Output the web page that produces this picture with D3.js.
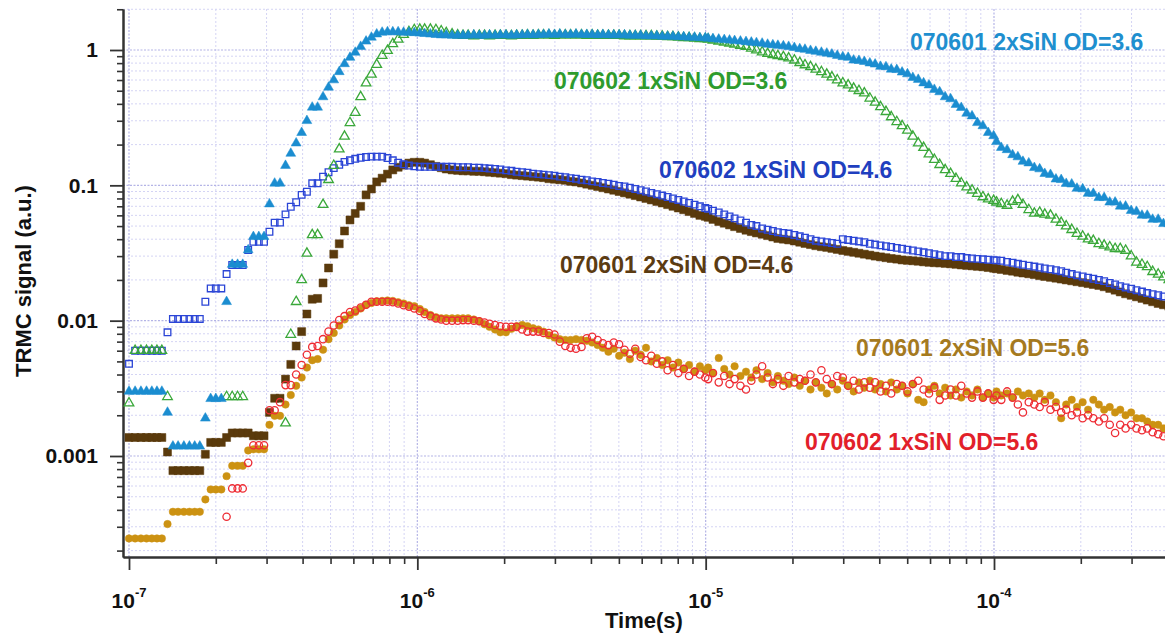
<!DOCTYPE html>
<html><head><meta charset="utf-8">
<script src="https://cdn.jsdelivr.net/npm/d3@7"></script>
<style>
html,body{margin:0;padding:0;background:#fff;}
svg{display:block;font-family:"Liberation Sans",Arial,Helvetica,sans-serif;}
</style></head><body>
<svg id="chart" width="1165" height="637"></svg>
<script>
// ---------------- DATA ----------------
// sample times in microseconds (shared by all series)
const time_us = [
0.100,0.105,0.110,0.115,0.120,0.125,0.130,0.136,0.142,0.148,0.155,0.162,0.169,0.176,0.184,0.192,0.200,0.209,0.218,0.228,0.238,0.248,0.259,0.270,0.282,0.294,0.307,0.320,0.334,0.349,0.364,0.380,0.397,0.414,0.432,0.451,0.471,0.492,0.513,0.536,0.559,0.584,0.609,0.636,0.664,0.693,0.723,0.755,0.788,0.822,0.858,0.896,0.935,0.976,
1.02,1.06,1.11,1.16,1.21,1.26,1.32,1.38,1.44,1.50,1.57,1.64,1.71,1.78,1.86,1.94,2.03,2.12,2.21,2.31,2.41,2.52,2.63,2.74,2.86,2.99,3.12,3.26,3.40,3.55,3.71,3.87,4.04,4.22,4.40,4.60,4.80,5.01,5.23,5.46,5.70,5.95,6.21,6.48,6.77,7.07,7.38,7.70,8.04,8.39,8.76,9.15,9.55,9.97,
10.2,10.6,11.1,11.6,12.1,12.6,13.2,13.8,14.4,15.0,15.7,16.4,17.1,17.8,18.6,19.4,20.3,21.2,22.1,23.1,24.1,25.2,26.3,27.4,28.6,29.9,31.2,32.6,34.0,35.5,37.1,38.7,40.4,42.2,44.0,46.0,48.0,50.1,52.3,54.6,57.0,59.5,62.1,64.8,67.7,70.7,73.8,77.0,80.4,83.9,87.6,91.5,95.5,99.7,
102,106,111,116,121,126,132,138,144,150,157,164,171,178,186,194,203,212,221,231,241,252,263,274,286,299,312,326,340,355,371,387,404];

// 070601 2xSiN OD=3.6 (filled triangles)
const s070601_OD36 = [
0.003,0.003,0.003,0.003,0.003,0.003,0.003,0.0021,0.00118,0.00118,0.00118,0.00118,0.00118,0.00118,0.0019,0.00265,0.00265,0.00265,0.0138,0.026,0.026,0.026,0.0333,0.0417,0.0417,0.0417,0.0727,0.1035,0.1035,0.14,0.172,0.205,0.245,0.30,0.377,0.377,0.45,0.53,0.60,0.69,0.79,0.88,0.96,1.06,1.16,1.24,1.31,1.35,1.36,1.36,1.36,1.35,1.35,1.34,
1.33,1.32,1.31,1.30,1.29,1.29,1.28,1.28,1.28,1.28,1.29,1.28,1.28,1.29,1.28,1.29,1.29,1.28,1.29,1.29,1.30,1.29,1.30,1.30,1.31,1.30,1.31,1.30,1.30,1.31,1.30,1.30,1.30,1.29,1.30,1.29,1.29,1.29,1.29,1.28,1.28,1.28,1.27,1.27,1.27,1.26,1.26,1.26,1.25,1.25,1.24,1.24,1.23,1.23,
1.22,1.21,1.20,1.19,1.18,1.17,1.16,1.15,1.14,1.13,1.12,1.10,1.09,1.08,1.07,1.06,1.04,1.02,1.01,0.99,0.975,0.96,0.945,0.93,0.91,0.89,0.88,0.84,0.835,0.82,0.80,0.785,0.755,0.75,0.72,0.715,0.685,0.665,0.625,0.605,0.57,0.55,0.51,0.49,0.45,0.435,0.395,0.375,0.34,0.325,0.29,0.275,0.245,0.232,
0.21,0.19,0.183,0.168,0.162,0.15,0.146,0.135,0.132,0.122,0.12,0.111,0.11,0.103,0.102,0.095,0.094,0.087,0.087,0.081,0.081,0.075,0.075,0.07,0.07,0.065,0.064,0.06,0.06,0.056,0.056,0.052,0.052];

// 070602 1xSiN OD=3.6 (open triangles)
const s070602_OD36 = [
0.00246,0.006,0.006,0.006,0.006,0.006,0.006,0.00274,null,null,null,null,null,null,null,null,null,null,0.00274,0.00274,0.00274,0.00274,null,null,null,null,null,null,null,0.00175,0.0079,0.0138,0.02,0.0314,0.043,0.043,0.072,0.11,0.14,0.185,0.23,0.29,0.345,0.45,0.57,0.66,0.78,0.91,0.99,1.11,1.2,1.3,1.36,1.41,
1.42,1.42,1.42,1.41,1.38,1.34,1.31,1.29,1.28,1.28,1.27,1.28,1.28,1.27,1.28,1.28,1.28,1.27,1.28,1.28,1.29,1.28,1.29,1.29,1.29,1.28,1.29,1.29,1.29,1.29,1.29,1.28,1.29,1.28,1.28,1.28,1.28,1.28,1.27,1.27,1.27,1.27,1.27,1.27,1.26,1.26,1.25,1.25,1.24,1.23,1.23,1.22,1.21,1.21,
1.20,1.18,1.16,1.14,1.12,1.10,1.08,1.06,1.03,1.0,0.965,0.94,0.92,0.905,0.89,0.87,0.84,0.805,0.775,0.75,0.72,0.69,0.66,0.63,0.60,0.57,0.55,0.52,0.50,0.48,0.44,0.41,0.38,0.35,0.32,0.295,0.275,0.255,0.23,0.205,0.19,0.17,0.155,0.142,0.13,0.122,0.112,0.104,0.097,0.092,0.087,0.082,0.079,0.077,
0.075,0.073,0.071,0.076,0.078,0.072,0.066,0.062,0.063,0.061,0.060,0.056,0.053,0.050,0.047,0.044,0.042,0.040,0.039,0.037,0.036,0.035,0.034,0.034,0.033,0.030,0.027,0.026,0.025,0.023,0.022,0.021,0.020];

// 070602 1xSiN OD=4.6 (open squares)
const s070602_OD46 = [
0.0048,0.006,0.006,0.006,0.006,0.006,0.006,0.0082,0.0103,0.0103,0.0103,0.0103,0.0103,0.0103,0.0138,0.0173,0.0173,0.0173,0.0221,0.0258,0.0258,0.0258,0.0333,0.0383,0.0383,0.0383,0.0454,0.053,0.053,0.061,0.0695,0.075,0.085,0.0897,0.1035,0.1035,0.116,0.125,0.134,0.142,0.149,0.153,0.157,0.16,0.162,0.163,0.163,0.163,0.159,0.153,0.147,0.143,0.14,0.138,
0.137,0.137,0.137,0.137,0.137,0.137,0.137,0.136,0.136,0.136,0.135,0.135,0.134,0.133,0.132,0.131,0.129,0.128,0.126,0.125,0.124,0.122,0.121,0.12,0.119,0.118,0.116,0.115,0.113,0.112,0.110,0.109,0.107,0.106,0.104,0.103,0.101,0.099,0.098,0.096,0.094,0.092,0.09,0.088,0.086,0.084,0.082,0.080,0.078,0.076,0.074,0.072,0.07,0.068,
0.067,0.065,0.063,0.061,0.059,0.057,0.055,0.053,0.051,0.050,0.048,0.047,0.046,0.045,0.0445,0.044,0.043,0.042,0.041,0.040,0.039,0.0385,0.038,0.0375,0.037,0.040,0.0395,0.039,0.0385,0.038,0.037,0.0365,0.036,0.0355,0.035,0.0345,0.034,0.0335,0.033,0.0325,0.032,0.0315,0.031,0.0305,0.030,0.030,0.0295,0.0295,0.029,0.0288,0.0286,0.0284,0.0282,0.028,
0.0279,0.0277,0.0272,0.0268,0.0263,0.0259,0.0255,0.0251,0.0247,0.0243,0.024,0.0236,0.0232,0.0226,0.0221,0.0216,0.0212,0.0208,0.0204,0.020,0.0196,0.019,0.0185,0.018,0.0176,0.0172,0.0168,0.0164,0.016,0.0157,0.0154,0.0151,0.0148];

// 070601 2xSiN OD=4.6 (filled squares)
const s070601_OD46 = [
0.00137,0.00137,0.00137,0.00137,0.00137,0.00137,0.00137,0.00107,0.00078,0.00078,0.00078,0.00078,0.00078,0.00078,0.00103,0.00126,0.00126,0.00126,0.00137,0.00148,0.00148,0.00148,0.00148,0.00141,0.00141,0.00141,0.0021,0.00267,0.00267,0.0037,0.00475,0.0065,0.0083,0.0112,0.0144,0.0146,0.019,0.0245,0.031,0.037,0.046,0.0555,0.062,0.070,0.085,0.094,0.106,0.113,0.121,0.130,0.136,0.141,0.146,0.148,
0.148,0.146,0.142,0.138,0.135,0.132,0.130,0.129,0.128,0.128,0.127,0.127,0.126,0.125,0.124,0.123,0.122,0.120,0.119,0.118,0.117,0.116,0.115,0.114,0.112,0.111,0.110,0.109,0.107,0.106,0.104,0.102,0.100,0.098,0.096,0.094,0.092,0.090,0.088,0.086,0.084,0.082,0.080,0.078,0.076,0.074,0.072,0.070,0.068,0.066,0.064,0.062,0.060,0.059,
0.058,0.056,0.054,0.0525,0.051,0.0495,0.048,0.0466,0.0455,0.0445,0.0435,0.0425,0.0415,0.0405,0.040,0.0395,0.0388,0.038,0.0372,0.0365,0.0358,0.0352,0.0348,0.0342,0.0336,0.033,0.0325,0.032,0.0315,0.031,0.0305,0.030,0.0296,0.0292,0.0288,0.0285,0.0281,0.0279,0.0277,0.0275,0.0272,0.027,0.0268,0.0267,0.0265,0.0263,0.0261,0.0258,0.0256,0.0254,0.0252,0.025,0.0247,0.0244,
0.0242,0.0239,0.0235,0.0232,0.0228,0.0225,0.0222,0.0219,0.0215,0.0212,0.0209,0.0206,0.0203,0.020,0.0197,0.0194,0.0191,0.0188,0.0185,0.0182,0.0178,0.0173,0.0168,0.0163,0.0158,0.0154,0.015,0.0146,0.0142,0.0138,0.0134,0.0131,0.0128];

// 070601 2xSiN OD=5.6 (filled circles)
const s070601_OD56 = [
0.000246,0.000246,0.000246,0.000246,0.000246,0.000246,0.000246,0.000314,0.000387,0.000387,0.000387,0.000387,0.000387,0.000387,0.000478,0.000566,0.000566,0.000566,0.00071,0.000847,0.000847,0.000847,0.0011,0.00112,0.00112,0.00112,0.0017,0.00198,0.00198,0.0024,0.00282,0.0033,0.0038,0.0045,0.0051,0.0052,0.0061,0.0073,0.0081,0.0092,0.0102,0.011,0.0116,0.0123,0.0131,0.0135,0.0139,0.014,0.0141,0.014,0.0137,0.0134,0.013,0.0128,
0.0122,0.0116,0.011,0.0106,0.0104,0.0104,0.0104,0.0104,0.0104,0.0104,0.0102,0.0099,0.0094,0.009,0.0086,0.0082,0.0082,0.0087,0.0091,0.0093,0.0091,0.0088,0.0086,0.0083,0.0078,0.0075,0.0073,0.0072,0.0072,0.0073,0.0072,0.0071,0.0069,0.0066,0.0063,0.0059,0.0062,0.0055,0.0058,0.0052,0.0060,0.0056,0.0063,0.0050,0.0053,0.0047,0.0051,0.0045,0.0049,0.0044,0.0047,0.0042,0.0046,0.0043,
0.0045,0.0041,0.0053,0.0044,0.0040,0.0046,0.0039,0.0042,0.0038,0.0043,0.0037,0.0041,0.0035,0.0039,0.0036,0.0034,0.0038,0.0033,0.0036,0.0031,0.0035,0.0032,0.0029,0.0034,0.0031,0.0036,0.0033,0.0030,0.0035,0.0032,0.0036,0.0031,0.0034,0.0030,0.0035,0.0031,0.0033,0.0029,0.0034,0.0026,0.0025,0.0031,0.0033,0.0029,0.0032,0.0028,0.0031,0.0027,0.0030,0.0028,0.0031,0.0027,0.0029,0.0027,
0.0030,0.0028,0.0029,0.0027,0.0030,0.0028,0.0029,0.0027,0.0029,0.0026,0.0028,0.0025,0.0019,0.0024,0.0026,0.0023,0.0025,0.0022,0.0026,0.0024,0.0022,0.0023,0.0021,0.0022,0.0020,0.0021,0.0019,0.0019,0.0018,0.0017,0.0017,0.0016,0.0015];

// 070602 1xSiN OD=5.6 (open circles)
const s070602_OD56 = [
null,null,null,null,null,null,null,null,null,null,null,null,null,null,null,null,null,null,0.000356,0.000576,0.000576,0.000576,0.00089,0.0012,0.0012,0.0012,0.00218,0.00218,0.0025,0.00334,0.00334,0.0040,0.0047,0.0056,0.0064,0.0065,0.0073,0.0083,0.0092,0.0101,0.0108,0.0116,0.0119,0.0125,0.0131,0.0138,0.0138,0.0138,0.0138,0.0137,0.0134,0.013,0.0127,0.0123,
0.0118,0.0112,0.0108,0.0104,0.0102,0.0100,0.0100,0.0100,0.0101,0.0101,0.0100,0.0099,0.0097,0.0095,0.0093,0.0091,0.0090,0.0090,0.0090,0.0086,0.0083,0.0083,0.0083,0.0081,0.0081,0.0079,0.0070,0.0065,0.0063,0.0062,0.0064,0.0074,0.0076,0.0072,0.0068,0.0066,0.0069,0.0067,0.0061,0.0057,0.0062,0.0054,0.0051,0.0055,0.0048,0.0050,0.0043,0.0047,0.0041,0.0044,0.0039,0.0042,0.0040,0.0038,
0.0037,0.0041,0.0035,0.0039,0.0034,0.0037,0.0033,0.0031,0.0036,0.0040,0.0046,0.0038,0.0034,0.0037,0.0033,0.0039,0.0035,0.0037,0.0036,0.0040,0.0035,0.0043,0.0037,0.0034,0.0039,0.0038,0.0033,0.0036,0.0031,0.0035,0.0032,0.0035,0.0030,0.0033,0.0029,0.0034,0.0033,0.0030,0.0034,0.0036,0.0031,0.0029,0.0032,0.0026,0.0028,0.0031,0.0028,0.0033,0.0029,0.0027,0.0030,0.0027,0.0029,0.0026,
0.0028,0.0026,0.0030,0.0027,0.0024,0.0021,0.0025,0.0024,0.0023,0.0025,0.0022,0.0023,0.0021,0.0022,0.0020,0.0021,0.0019,0.0020,0.0019,0.0018,0.0019,0.0017,0.00148,0.0017,0.0016,0.0017,0.0016,0.00155,0.0016,0.0015,0.00145,0.0014,0.0014];

const seriesNames = ["070601 2xSiN OD=3.6","070602 1xSiN OD=3.6","070602 1xSiN OD=4.6","070601 2xSiN OD=4.6","070601 2xSiN OD=5.6","070602 1xSiN OD=5.6"];
const yTickValues = [0.001,0.01,0.1,1];
const yTickLabels = ["0.001","0.01","0.1","1"];
const xTickValues = [1e-7,1e-6,1e-5,1e-4];
const xTickExponents = ["-7","-6","-5","-4"];
const xAxisTitle = "Time(s)";
const yAxisTitle = "TRMC signal (a.u.)";

// ---------------- CHART ----------------
const svg = d3.select("#chart");
const L = 123, R = 1165, T = 9, B = 557;

const x = d3.scaleLog().domain([1e-7, 1e-4]).range([129, 994]);
x.domain([x.invert(L), x.invert(R)]).range([L, R]);
const y = d3.scaleLog().domain([1e-3, 1]).range([456, 50]);
y.domain([y.invert(B), y.invert(T)]).range([B, T]);

function minorTicks(scale, d0, d1) {
  const out = [];
  const [lo, hi] = scale.domain();
  for (let d = d0; d <= d1; d++) for (let k = 2; k <= 9; k++) {
    const v = k * Math.pow(10, d);
    if (v >= lo * 0.999 && v <= hi * 1.001) out.push(v);
  }
  return out;
}
const xMinor = minorTicks(x, -8, -3);
const yMinor = minorTicks(y, -4, 0);

// grid
const grid = svg.append("g");
grid.selectAll("line.vmin").data(xMinor).join("line")
  .attr("x1", d => x(d)).attr("x2", d => x(d)).attr("y1", T).attr("y2", B)
  .attr("stroke", "#d4d4f4").attr("stroke-width", 1).attr("stroke-dasharray", "2,2");
grid.selectAll("line.hmin").data(yMinor).join("line")
  .attr("y1", d => y(d)).attr("y2", d => y(d)).attr("x1", L).attr("x2", R)
  .attr("stroke", "#d4d4f4").attr("stroke-width", 1).attr("stroke-dasharray", "2,2");
grid.selectAll("line.vmaj").data(xTickValues).join("line")
  .attr("x1", d => x(d)).attr("x2", d => x(d)).attr("y1", T).attr("y2", B)
  .attr("stroke", "#b4b4e6").attr("stroke-width", 1.2).attr("stroke-dasharray", "2,1.5");
grid.selectAll("line.hmaj").data(yTickValues).join("line")
  .attr("y1", d => y(d)).attr("y2", d => y(d)).attr("x1", L).attr("x2", R)
  .attr("stroke", "#b4b4e6").attr("stroke-width", 1.2).attr("stroke-dasharray", "2,1.5");

// axes
const axisColor = "#333";
function styleAxis(g, w) {
  g.select(".domain").attr("stroke", axisColor).attr("stroke-width", 2);
  g.selectAll(".tick line").attr("stroke", axisColor).attr("stroke-width", w);
}
const gyMin = svg.append("g").attr("transform", `translate(${L},0)`)
  .call(d3.axisLeft(y).tickValues(yMinor).tickSize(6).tickSizeOuter(0).tickFormat(""));
styleAxis(gyMin, 1.6);
const gyMaj = svg.append("g").attr("transform", `translate(${L},0)`)
  .call(d3.axisLeft(y).tickValues(yTickValues).tickSize(13).tickSizeOuter(0).tickPadding(12)
    .tickFormat((d, i) => yTickLabels[i]));
styleAxis(gyMaj, 1.8);
gyMaj.selectAll(".tick text").attr("font-size", 21).attr("font-weight", "bold")
  .attr("fill", "#111").attr("font-family", '"Liberation Sans",Arial,sans-serif');

const gxMin = svg.append("g").attr("transform", `translate(0,${B})`)
  .call(d3.axisBottom(x).tickValues(xMinor).tickSize(7).tickSizeOuter(0).tickFormat(""));
styleAxis(gxMin, 1.6);
const gxMaj = svg.append("g").attr("transform", `translate(0,${B})`)
  .call(d3.axisBottom(x).tickValues(xTickValues).tickSize(13).tickSizeOuter(0).tickFormat(""));
styleAxis(gxMaj, 1.8);

const xl = svg.append("g");
xTickValues.forEach((v, i) => {
  const t = xl.append("text").attr("x", x(v)).attr("y", 608)
    .attr("text-anchor", "middle").attr("font-size", 21).attr("font-weight", "bold").attr("fill", "#111");
  t.append("tspan").text("10");
  t.append("tspan").attr("dy", -11).attr("font-size", 13).text(xTickExponents[i]);
});
svg.append("text").attr("x", (L + R) / 2).attr("y", 628).attr("text-anchor", "middle")
  .attr("font-size", 22).attr("font-weight", "bold").attr("fill", "#111").text(xAxisTitle);
svg.append("text").attr("transform", "translate(31,281) rotate(-90)").attr("text-anchor", "middle")
  .attr("font-size", 22).attr("font-weight", "bold").attr("fill", "#111").text(yAxisTitle);

// series
const series = [
  {values: s070601_OD46, type: d3.symbolSquare,   size: 64, filled: true,  color: "#5a3a0c"},
  {values: s070602_OD46, type: d3.symbolSquare,   size: 44, filled: false, color: "#2b45d6"},
  {values: s070602_OD36, type: d3.symbolTriangle, size: 40, filled: false, color: "#3aa83a"},
  {values: s070601_OD36, type: d3.symbolTriangle, size: 42, filled: true,  color: "#1b8dd0"},
  {values: s070601_OD56, type: d3.symbolCircle,   size: 44, filled: true,  color: "#cc9212"},
  {values: s070602_OD56, type: d3.symbolCircle,   size: 42, filled: false, color: "#ee2c34"}
];
svg.append("clipPath").attr("id", "plotclip").append("rect")
  .attr("x", L).attr("y", T - 6).attr("width", R - L + 10).attr("height", B - T + 6);
const plot = svg.append("g").attr("clip-path", "url(#plotclip)");
series.forEach(s => {
  const pts = [];
  s.values.forEach((v, i) => {
    if (v == null || i >= time_us.length) return;
    pts.push([time_us[i] * 1e-6, v]);
  });
  const path = d3.symbol().type(s.type).size(s.size)();
  plot.append("g").selectAll("path").data(pts).join("path")
    .attr("transform", d => `translate(${x(d[0])},${y(d[1])})`)
    .attr("d", path)
    .attr("fill", s.filled ? s.color : "none")
    .attr("stroke", s.color)
    .attr("stroke-width", s.filled ? 0.5 : 1.3);
});

// series labels
const labelStyle = [
  {x: 910, y: 50,  color: "#1f8fcf"},
  {x: 554, y: 89,  color: "#2e9b2e"},
  {x: 659, y: 178, color: "#1f3fbf"},
  {x: 560, y: 273, color: "#5b3b12"},
  {x: 856, y: 356, color: "#a57a1f"},
  {x: 805, y: 450, color: "#e2202a"}
];
seriesNames.forEach((n, i) => {
  svg.append("text").attr("x", labelStyle[i].x).attr("y", labelStyle[i].y)
    .attr("font-size", 23).attr("font-weight", "bold").attr("fill", labelStyle[i].color).text(n);
});
</script>
</body></html>
